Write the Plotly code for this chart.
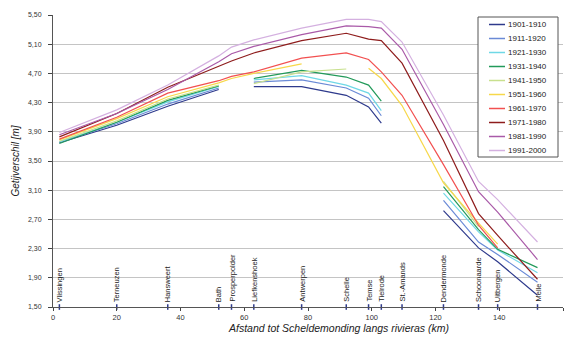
import plotly.graph_objects as go

stations = ["Vlissingen", "Terneuzen", "Hansweert", "Bath", "Prosperpolder", "Liefkenshoek",
            "Antwerpen", "Schelle", "Temse", "Tielrode", "St.-Amands", "Dendermonde",
            "Schoonaarde", "Uitbergen", "Melle"]
km = [2, 20, 36, 52, 56, 63, 78, 92, 99, 103, 109.5, 122.5, 133.5, 139.5, 152]

s1901 = [3.75, 3.99, 4.25, 4.48, None, 4.52, 4.52, 4.40, 4.24, 4.02, None, 2.82, 2.31, 2.12, 1.66]
s1911 = [3.76, 4.01, 4.28, 4.50, None, 4.58, 4.61, 4.50, 4.36, 4.12, None, 2.96, 2.39, 2.22, 1.84]
s1921 = [3.76, 4.03, 4.31, 4.52, None, 4.61, 4.67, 4.54, 4.43, 4.19, None, 3.06, 2.53, 2.28, 1.97]
s1931 = [3.74, 4.03, 4.33, 4.53, None, 4.63, 4.74, 4.65, 4.54, 4.32, None, 3.15, 2.56, 2.29, 2.04]
s1941 = [3.77, 4.05, 4.35, 4.54, None, 4.56, 4.72, 4.76, None, None, None, 3.22, 2.60, None, None]
s1951 = [3.79, 4.08, 4.38, 4.57, 4.63, 4.70, 4.83, None, 4.77, 4.63, 4.26, 3.20, 2.65, 2.36, None]
s1961 = [3.80, 4.10, 4.43, 4.60, 4.66, 4.72, 4.91, 4.98, 4.89, 4.72, 4.40, 3.45, 2.62, 2.31, None]
s1971 = [3.83, 4.15, 4.51, 4.79, 4.87, 4.98, 5.15, 5.25, 5.17, 5.15, 4.84, 3.78, 2.78, 2.48, 1.88]
s1981 = [3.86, 4.15, 4.48, 4.86, 4.97, 5.07, 5.23, 5.35, 5.34, 5.32, 5.03, 4.00, 3.08, 2.80, 2.15]
s1991 = [3.89, 4.20, 4.54, 4.94, 5.06, 5.16, 5.32, 5.44, 5.44, 5.41, 5.13, 4.13, 3.22, 2.97, 2.39]

series_names = ["1901-1910", "1911-1920", "1921-1930", "1931-1940", "1941-1950",
                "1951-1960", "1961-1970", "1971-1980", "1981-1990", "1991-2000"]
series_values = [s1901, s1911, s1921, s1931, s1941, s1951, s1961, s1971, s1981, s1991]
series_colors = ["#2e3a8c", "#6a8ad6", "#6fd8e6", "#229a5a", "#c8e08e",
                 "#f7d84a", "#f25050", "#8e1c1c", "#a95aa8", "#d4b0e0"]

y_ticks = [1.50, 1.90, 2.30, 2.70, 3.10, 3.50, 3.90, 4.30, 4.70, 5.10, 5.50]
x_ticks = [0, 20, 40, 60, 80, 100, 120, 140, 160]

FONT = "Liberation Sans, Arial, sans-serif"

# plot-area geometry (pixels) used to place the legend box and axis title
W, H = 566, 338
ML, MR, MT, MB = 53, 3, 15, 31
PW, PH = W - ML - MR, H - MT - MB


def px_x(p):
    return (p - ML) / PW


def px_y(p):
    return (H - MB - p) / PH


fig = go.Figure()
for name, vals, col in zip(series_names, series_values, series_colors):
    fig.add_trace(go.Scatter(x=km, y=vals, name=name, mode="lines", showlegend=False,
                             line=dict(color=col, width=1.2), connectgaps=False))

# station markers on the axis
fig.add_trace(go.Scatter(x=km, y=[1.5] * len(km), mode="markers", showlegend=False,
                         hoverinfo="skip", cliponaxis=False,
                         marker=dict(symbol="line-ns", size=4,
                                     line=dict(color="#2e3a8c", width=1.5))))

for st, k in zip(stations, km):
    fig.add_annotation(x=k, y=1.5, text=st, textangle=-90, showarrow=False,
                       xanchor="center", yanchor="bottom", yshift=3,
                       font=dict(family=FONT, size=7.5, color="#222222"))

# compact legend box (Excel style)
fig.add_shape(type="rect", xref="paper", yref="paper",
              x0=px_x(478), x1=px_x(558), y0=px_y(157), y1=px_y(17),
              fillcolor="white", line=dict(color="#555555", width=1), layer="above")
for i, (name, col) in enumerate(zip(series_names, series_colors)):
    cy = px_y(24.5 + 14 * i)
    fig.add_shape(type="line", xref="paper", yref="paper",
                  x0=px_x(489), x1=px_x(505), y0=cy, y1=cy,
                  line=dict(color=col, width=1.5), layer="above")
    fig.add_annotation(xref="paper", yref="paper", x=px_x(506), y=cy, text=name,
                       showarrow=False, xanchor="left", yanchor="middle",
                       font=dict(family=FONT, size=8, color="#222222"))

# x-axis title
fig.add_annotation(xref="paper", yref="paper", x=px_x(338), y=px_y(328),
                   text="<i>Afstand tot Scheldemonding langs rivieras (km)</i>",
                   showarrow=False, xanchor="center", yanchor="middle",
                   font=dict(family=FONT, size=10.5, color="#222222"))

fig.update_layout(
    width=W, height=H,
    margin=dict(l=ML, r=MR, t=MT, b=MB),
    paper_bgcolor="white", plot_bgcolor="white",
    separators=",.",
    font=dict(family=FONT, size=7, color="#333333"),
    showlegend=False,
    xaxis=dict(range=[0, 160], tickvals=x_ticks, ticks="outside", ticklen=3,
               showgrid=False, showline=True, linecolor="#555555", linewidth=1,
               zeroline=False, tickfont=dict(size=7.5, color="#333333"),
               automargin=False),
    yaxis=dict(range=[1.5, 5.5], tickvals=y_ticks, tickformat=".2f", ticks="outside",
               ticklen=4, showgrid=True, gridcolor="#c4c4c4", gridwidth=1,
               showline=True, linecolor="#555555", linewidth=1, zeroline=False,
               ticklabelstandoff=5,
               tickfont=dict(size=7, color="#333333"),
               title=dict(text="<i>Getijverschil [m]</i>",
                          font=dict(family=FONT, size=10, color="#222222"), standoff=6),
               automargin=False),
)

fig.write_html("out.html", config={"displayModeBar": False},
               post_script="document.body.style.margin='0';document.body.style.overflow='hidden';")
